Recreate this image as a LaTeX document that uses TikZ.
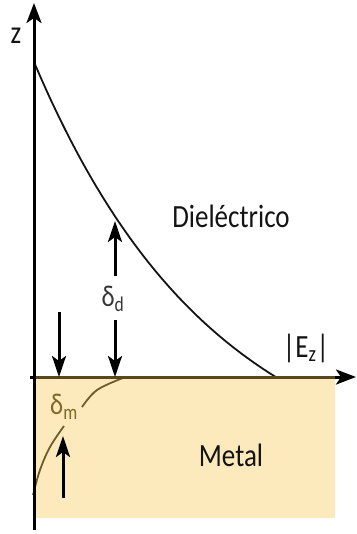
\documentclass[tikz,border=0pt]{standalone}
\usepackage{fontspec}
\setmainfont{Carlito}
\usetikzlibrary{arrows.meta}
\definecolor{metalfill}{RGB}{253,234,188}
\definecolor{metalline}{RGB}{88,72,30}
\definecolor{metalcurve}{RGB}{110,92,45}
\definecolor{deltam}{RGB}{125,105,40}
\definecolor{txt}{RGB}{20,20,20}
\tikzset{
  axis/.style={line width=3pt, -{Stealth[length=20pt,width=15pt,inset=5pt]}},
  darr/.style={line width=3pt, -{Stealth[length=21pt,width=14pt,inset=5pt]}},
  lbl/.style={font=\fontsize{27}{32}\selectfont, text=txt, inner sep=0pt},
  sym/.style={font=\fontsize{25}{30}\selectfont, inner sep=0pt},
}
\newcommand{\tallt}[1]{\scalebox{1}[1.2]{#1}}
\begin{document}
\begin{tikzpicture}[x=1pt,y=-1pt]
\useasboundingbox (0,0) rectangle (356,534);
% metal region
\fill[metalfill] (34,377) rectangle (335,518);
% curves
\draw[line width=1.8pt, txt] plot[domain=34:277, samples=90, smooth] (\x, {489 - 427*exp(-(\x-34)/180.6)});
\draw[line width=1.8pt, metalcurve] plot[smooth, tension=0.6] coordinates {(123,378) (97,390) (82,407)};
\draw[line width=1.8pt, metalcurve] plot[smooth, tension=0.6] coordinates {(64,426) (50,447) (40,470) (33,495)};
% axes
\coordinate (xs) at (30,377);
\coordinate (xe) at (356,377);
\coordinate (ys) at (34,530);
\coordinate (ye) at (34,3);
\draw[axis] (xs) -- (xe);
\draw[line width=3pt, metalline] (34,377) -- (335,377);
\draw[axis] (ys) -- (ye);
% delta arrows
\coordinate (a1s) at (59,312); \coordinate (a1e) at (59,377);
\coordinate (a2s) at (63,498); \coordinate (a2e) at (63,436);
\coordinate (a3s) at (115,320); \coordinate (a3e) at (115,377);
\coordinate (a4s) at (115,276); \coordinate (a4e) at (115,221);
\draw[darr] (a1s) -- (a1e);
\draw[darr] (a2s) -- (a2e);
\draw[darr] (a3s) -- (a3e);
\draw[darr] (a4s) -- (a4e);
% labels
\node[lbl] (z) at (16,36) {\tallt{z}};
\node[lbl] (diel) at (231,216) {\tallt{Dieléctrico}};
\node[lbl] (metal) at (231,455) {\tallt{Metal}};
\node[lbl] (ez) at (306,348) {\tallt{|E\textsubscript{z}|}};
\node[sym, text=txt!85] (dd) at (113,299) {\tallt{δ\textsubscript{d}}};
\node[sym, text=deltam] (dm) at (64,407) {\tallt{δ\textsubscript{m}}};
\end{tikzpicture}
\end{document}
